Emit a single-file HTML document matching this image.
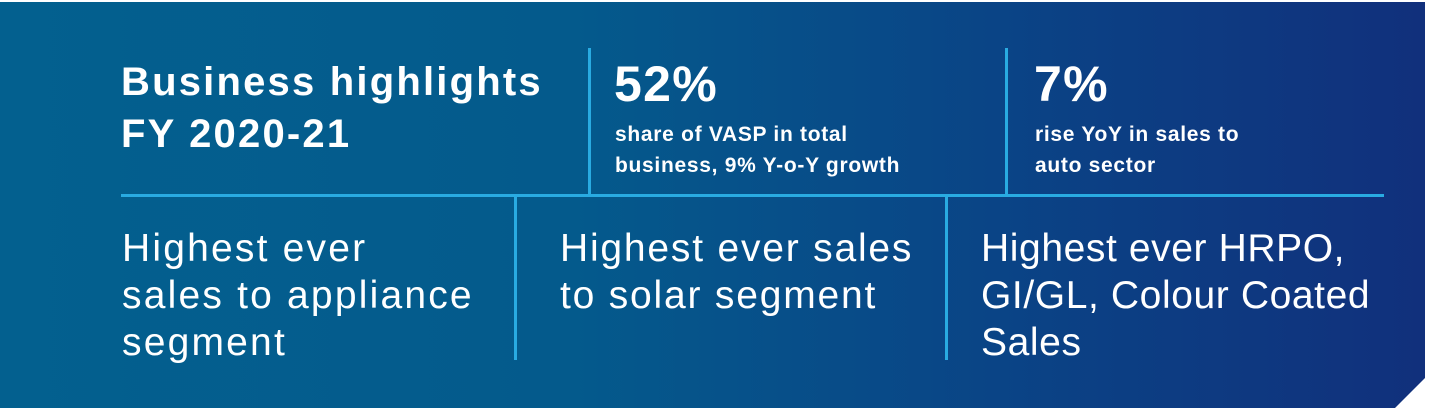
<!DOCTYPE html>
<html><head><style>
body{margin:0;width:1435px;height:414px;background:#fff;overflow:hidden;font-family:"Liberation Sans",sans-serif;color:#fff}
.bg{position:absolute;left:0;top:2px;width:1425px;height:406px;background:linear-gradient(90deg,#03608f 0%,#045a8c 40%,#0a4486 70%,#11307c 100%);clip-path:polygon(0 0,100% 0,100% 376px,1395px 100%,0 100%)}
.t{position:absolute;white-space:nowrap}
.h{font-weight:bold;font-size:40px;letter-spacing:2.2px;line-height:52px;left:121px;top:56px}
.big{font-weight:bold;font-size:50px;letter-spacing:1.3px;top:55px}
.sub{font-weight:bold;font-size:21px;letter-spacing:0.7px;line-height:31px;top:119px}
.low{font-size:39px;letter-spacing:0.8px;line-height:47px;top:225px}
.l{position:absolute;background:#29abe2}
</style></head><body>
<div class="bg"></div>
<div class="t h">Business highlights<br>FY 2020-21</div>
<div class="t big" style="left:614px">52%</div>
<div class="t sub" style="left:615px">share of VASP in total<br>business, 9% Y-o-Y growth</div>
<div class="t big" style="left:1034px">7%</div>
<div class="t sub" style="left:1035px">rise YoY in sales to<br>auto sector</div>
<div class="l" style="left:121px;top:194px;width:1263px;height:3px"></div>
<div class="l" style="left:588px;top:48px;width:3px;height:147px"></div>
<div class="l" style="left:1005px;top:48px;width:3px;height:147px"></div>
<div class="l" style="left:514px;top:197px;width:3px;height:163px"></div>
<div class="l" style="left:945px;top:197px;width:3px;height:163px"></div>
<div class="t low" style="left:122px;letter-spacing:2.2px">Highest ever<br>sales to appliance<br>segment</div>
<div class="t low" style="left:560px;letter-spacing:1.8px">Highest ever sales<br>to solar segment</div>
<div class="t low" style="left:981px;letter-spacing:0.6px">Highest ever HRPO,<br>GI/GL, Colour Coated<br>Sales</div>
</body></html>
